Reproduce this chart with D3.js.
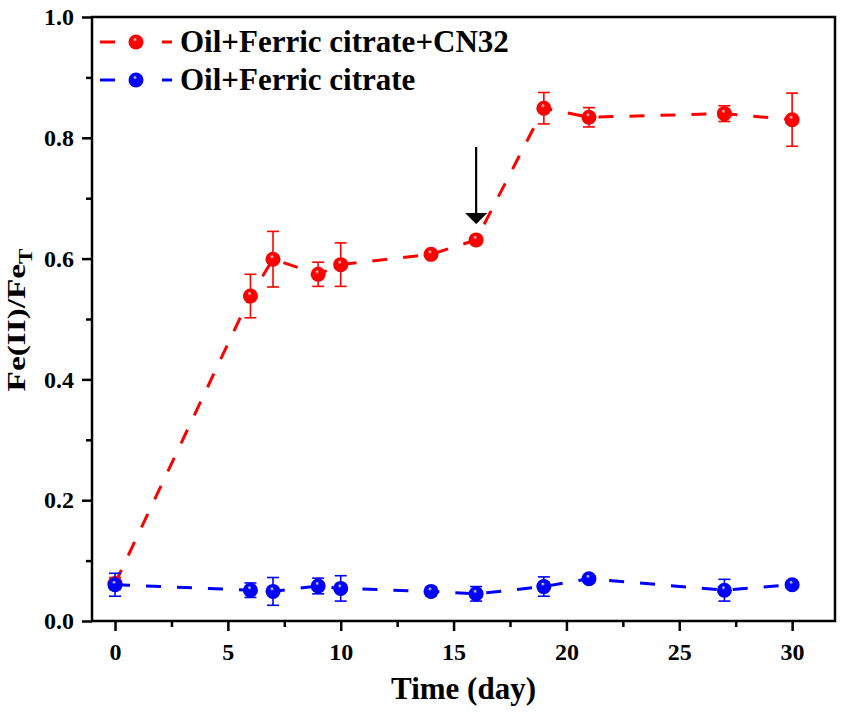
<!DOCTYPE html>
<html>
<head>
<meta charset="utf-8">
<script src="https://cdn.jsdelivr.net/npm/d3@7"></script>
<style>
  body { margin: 0; background: #fff; }
  svg text { font-family: "Liberation Serif", "Times New Roman", serif; font-weight: bold; }
</style>
</head>
<body>
<svg id="chart" width="851" height="712"></svg>
<script>
// sampling days
var days = [0, 6, 7, 9, 10, 14, 16, 19, 21, 27, 30];

// Oil+Ferric citrate+CN32
var cn32Vals = [0.062, 0.538, 0.599, 0.574, 0.590, 0.607, 0.631, 0.849, 0.834, 0.840, 0.830];
var cn32Errs = [0.010, 0.036, 0.046, 0.020, 0.036, 0.004, 0.005, 0.026, 0.016, 0.013, 0.044];

// Oil+Ferric citrate
var ctrlVals = [0.060, 0.051, 0.049, 0.058, 0.054, 0.049, 0.045, 0.057, 0.070, 0.051, 0.060];
var ctrlErrs = [0.019, 0.012, 0.023, 0.013, 0.021, 0.007, 0.012, 0.016, 0.004, 0.018, 0.004];

var xTicks = [0, 5, 10, 15, 20, 25, 30];
var yTicks = [0.0, 0.2, 0.4, 0.6, 0.8, 1.0];

var seriesList = [
	{ name: "Oil+Ferric citrate+CN32", color: "#ff0000", dark: "#b00000", vals: cn32Vals, errs: cn32Errs },
	{ name: "Oil+Ferric citrate", color: "#0000ff", dark: "#0000a0", vals: ctrlVals, errs: ctrlErrs }
];

var svg = d3.select("#chart");
var plotL = 92, plotR = 835, plotT = 17, plotB = 621;

var x = d3.scaleLinear().domain([-1.02, 31.9]).range([plotL, plotR]);
var y = d3.scaleLinear().domain([0, 1]).range([plotB, plotT]);

// sphere-like gradients for the markers
var defs = svg.append("defs");
seriesList.forEach(function (s, i) {
	var g = defs.append("radialGradient").attr("id", "ball" + i)
		.attr("cx", "50%").attr("cy", "50%").attr("r", "55%")
		.attr("fx", "42%").attr("fy", "30%");
	g.append("stop").attr("offset", "0%").attr("stop-color", "#ffffff");
	g.append("stop").attr("offset", "25%").attr("stop-color", s.color);
	g.append("stop").attr("offset", "85%").attr("stop-color", s.color);
	g.append("stop").attr("offset", "100%").attr("stop-color", s.dark);
});
defs.append("marker").attr("id", "arrowHead")
	.attr("viewBox", "0 0 10 10").attr("refX", 9).attr("refY", 5)
	.attr("markerWidth", 11).attr("markerHeight", 22)
	.attr("markerUnits", "userSpaceOnUse").attr("orient", "auto")
	.attr("preserveAspectRatio", "none")
	.append("path").attr("d", "M0,0 L10,5 L0,10 Z").attr("fill", "#000");

// axes: major ticks labelled, minor ticks at half steps
var xAxis = d3.axisBottom(x).tickValues(xTicks).tickSize(10).tickSizeOuter(0).tickPadding(12)
	.tickFormat(d3.format("d"));
var xMinor = d3.axisBottom(x).tickValues(xTicks.map(function (d) { return d + 2.5; }).filter(function (d) { return d < 31.9; }))
	.tickSize(6).tickSizeOuter(0).tickFormat("");
var yAxis = d3.axisLeft(y).tickValues(yTicks).tickSize(10).tickSizeOuter(0).tickPadding(8)
	.tickFormat(d3.format(".1f"));
var yMinor = d3.axisLeft(y).tickValues([0.1, 0.3, 0.5, 0.7, 0.9]).tickSize(6).tickSizeOuter(0).tickFormat("");

function styleAxis(g) {
	g.select(".domain").remove();
	g.selectAll("line").attr("stroke", "#000").attr("stroke-width", 2.5);
	g.selectAll("text").attr("fill", "#000").style("font-size", "24px");
}

svg.append("g").attr("transform", "translate(0," + plotB + ")").call(xAxis).call(styleAxis);
svg.append("g").attr("transform", "translate(0," + plotB + ")").call(xMinor).call(styleAxis);
svg.append("g").attr("transform", "translate(" + plotL + ",0)").call(yAxis).call(styleAxis);
svg.append("g").attr("transform", "translate(" + plotL + ",0)").call(yMinor).call(styleAxis);

// frame
svg.append("rect").attr("x", plotL).attr("y", plotT)
	.attr("width", plotR - plotL).attr("height", plotB - plotT)
	.attr("fill", "none").attr("stroke", "#000").attr("stroke-width", 2.5);

// axis titles
svg.append("text").attr("x", (plotL + plotR) / 2).attr("y", 699)
	.attr("text-anchor", "middle").style("font-size", "31px").text("Time (day)");
var yl = svg.append("text").attr("transform", "translate(25,320) rotate(-90) scale(1.28,1)")
	.attr("text-anchor", "middle").style("font-size", "26px");
yl.append("tspan").text("Fe(II)/Fe");
yl.append("tspan").attr("dy", 7).style("font-size", "18px").text("T");

// series: dashed line, error bars, ball markers
var line = d3.line().x(function (d) { return x(d.day); }).y(function (d) { return y(d.v); });

seriesList.forEach(function (s, i) {
	var pts = days.map(function (d, k) { return { day: d, v: s.vals[k], e: s.errs[k] }; });
	var g = svg.append("g");
	g.append("path").datum(pts).attr("d", line)
		.attr("fill", "none").attr("stroke", s.color).attr("stroke-width", 3)
		.attr("stroke-dasharray", "15,16");
	var eb = g.selectAll("g.err").data(pts).enter().append("g").attr("class", "err")
		.attr("stroke", s.color).attr("stroke-width", 1.6);
	eb.append("line")
		.attr("x1", function (d) { return x(d.day); }).attr("x2", function (d) { return x(d.day); })
		.attr("y1", function (d) { return y(d.v + d.e); }).attr("y2", function (d) { return y(d.v - d.e); });
	eb.append("line")
		.attr("x1", function (d) { return x(d.day) - 6; }).attr("x2", function (d) { return x(d.day) + 6; })
		.attr("y1", function (d) { return y(d.v + d.e); }).attr("y2", function (d) { return y(d.v + d.e); });
	eb.append("line")
		.attr("x1", function (d) { return x(d.day) - 6; }).attr("x2", function (d) { return x(d.day) + 6; })
		.attr("y1", function (d) { return y(d.v - d.e); }).attr("y2", function (d) { return y(d.v - d.e); });
	g.selectAll("circle").data(pts).enter().append("circle")
		.attr("cx", function (d) { return x(d.day); }).attr("cy", function (d) { return y(d.v); })
		.attr("r", 7.5).attr("fill", "url(#ball" + i + ")");
});

// arrow marking day 16
svg.append("line").attr("x1", x(16)).attr("x2", x(16))
	.attr("y1", 147).attr("y2", 223)
	.attr("stroke", "#000").attr("stroke-width", 2.2).attr("marker-end", "url(#arrowHead)");

// legend
var legend = svg.append("g");
seriesList.forEach(function (s, i) {
	var ly = 42 + i * 38;
	var row = legend.append("g").attr("transform", "translate(0," + ly + ")");
	row.append("line").attr("x1", 100).attr("x2", 172).attr("y1", 0).attr("y2", 0)
		.attr("stroke", s.color).attr("stroke-width", 3).attr("stroke-dasharray", "15,47");
	row.append("circle").attr("cx", 136).attr("cy", 0).attr("r", 7.5).attr("fill", "url(#ball" + i + ")");
	row.append("text").attr("x", 180).attr("y", 10).style("font-size", "31px").text(s.name);
});
</script>
</body>
</html>
